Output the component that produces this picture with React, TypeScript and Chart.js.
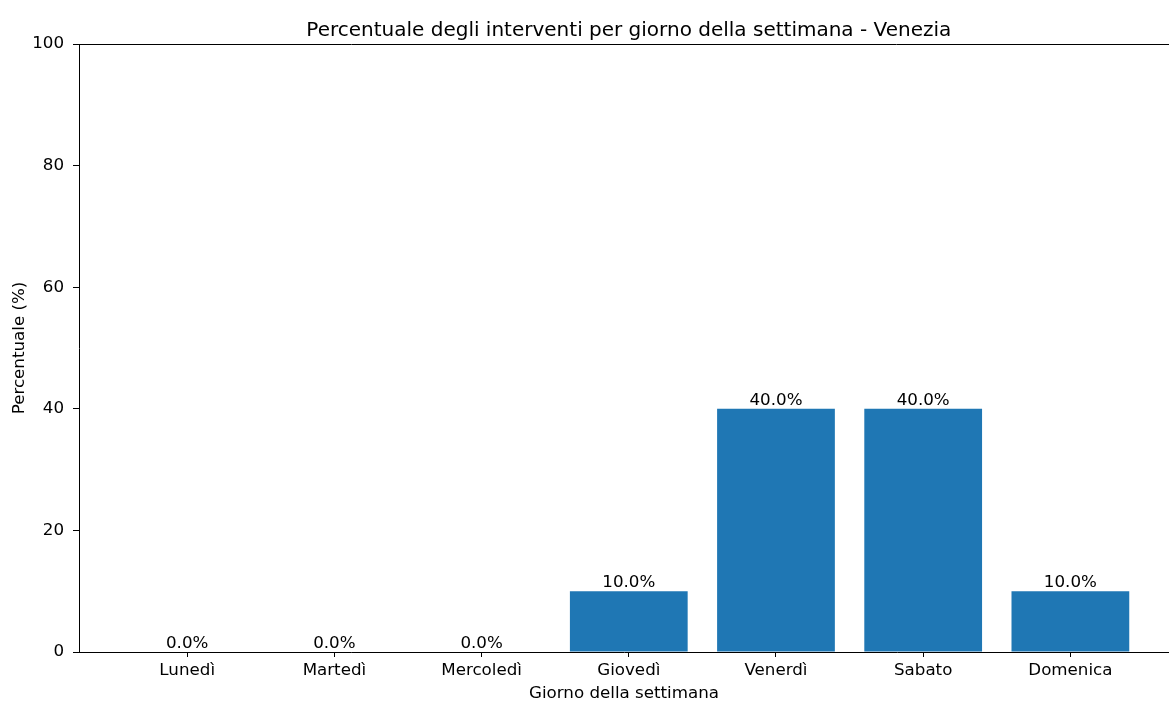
import React, { useEffect, useRef } from "react";
import { Chart, registerables } from "chart.js";

Chart.register(...registerables);

const TITLE = "Percentuale degli interventi per giorno della settimana - Venezia";
const X_LABEL = "Giorno della settimana";
const Y_LABEL = "Percentuale (%)";
const DAYS = ["Lunedì", "Martedì", "Mercoledì", "Giovedì", "Venerdì", "Sabato", "Domenica"];
const PERCENTAGES = [0, 0, 0, 10, 40, 40, 10];
const Y_TICKS = [0, 20, 40, 60, 80, 100];

const FONT = "'DejaVu Sans', 'Liberation Sans', sans-serif";
const BAR_COLOR = "#1f77b4";
const LABEL_SIZE = 16.7;
const TITLE_SIZE = 20;

const overlayPlugin = {
  id: "overlay",
  afterDatasetsDraw(chart: any) {
    const { ctx, chartArea, scales } = chart;
    const x = scales.x;
    const y = scales.y;
    ctx.save();
    // top spine
    ctx.strokeStyle = "#000";
    ctx.lineWidth = 1;
    ctx.beginPath();
    ctx.moveTo(chartArea.left, Math.round(chartArea.top) + 0.5);
    ctx.lineTo(chartArea.right, Math.round(chartArea.top) + 0.5);
    ctx.stroke();
    // value labels
    ctx.fillStyle = "#000";
    ctx.font = `${LABEL_SIZE}px ${FONT}`;
    ctx.textAlign = "center";
    ctx.textBaseline = "alphabetic";
    PERCENTAGES.forEach((v, i) => {
      const px = x.getPixelForValue(i);
      const py = y.getPixelForValue(v);
      ctx.fillText(`${v.toFixed(1)}%`, px, py - 3.8);
    });
    // title
    const axisCenter = x.getPixelForValue((-0.74 + 6.74) / 2);
    ctx.font = `${TITLE_SIZE}px ${FONT}`;
    ctx.fillText(TITLE, axisCenter, 36);
    ctx.restore();
  },
};

export default function App() {
  const canvasRef = useRef<HTMLCanvasElement | null>(null);

  useEffect(() => {
    if (!canvasRef.current) return;
    Chart.defaults.font.family = FONT;
    Chart.defaults.color = "#000";
    const chart = new Chart(canvasRef.current, {
      type: "bar",
      data: {
        datasets: [
          {
            data: PERCENTAGES.map((v, i) => ({ x: i, y: v })),
            backgroundColor: BAR_COLOR,
            borderWidth: 0,
            barPercentage: 0.8,
            categoryPercentage: 1,
          },
        ],
      },
      options: {
        responsive: false,
        animation: false,
        devicePixelRatio: 1,
        layout: { padding: { top: 44, left: 0, right: 0, bottom: 0 } },
        plugins: {
          legend: { display: false },
          tooltip: { enabled: false },
          title: { display: false },
        },
        scales: {
          x: {
            type: "linear",
            min: -0.735,
            max: 6.67,
            offset: false,
            afterFit: (s: any) => {
              s.height = 52;
            },
            afterBuildTicks: (s: any) => {
              s.ticks = DAYS.map((_, i) => ({ value: i }));
            },
            ticks: {
              autoSkip: false,
              maxRotation: 0,
              padding: 4,
              font: { size: LABEL_SIZE },
              color: "#000",
              callback: (v: any) => DAYS[v] ?? "",
            },
            grid: {
              display: true,
              offset: false,
              drawOnChartArea: false,
              drawTicks: true,
              tickLength: 5,
              tickColor: "#000",
              tickWidth: 1,
            },
            border: { display: true, color: "#000", width: 1 },
            title: {
              display: true,
              text: X_LABEL,
              font: { size: LABEL_SIZE },
              color: "#000",
              padding: { top: 0, bottom: 0 },
            },
          },
          y: {
            type: "linear",
            min: 0,
            max: 100,
            afterFit: (s: any) => {
              s.width = 79;
            },
            afterBuildTicks: (s: any) => {
              s.ticks = Y_TICKS.map((v) => ({ value: v }));
            },
            ticks: {
              padding: 9,
              font: { size: LABEL_SIZE },
              color: "#000",
            },
            grid: {
              display: true,
              drawOnChartArea: false,
              drawTicks: true,
              tickLength: 6,
              tickColor: "#000",
              tickWidth: 1,
            },
            border: { display: true, color: "#000", width: 1 },
            title: {
              display: true,
              text: Y_LABEL,
              font: { size: LABEL_SIZE },
              color: "#000",
              padding: { top: 9.5, bottom: 0 },
            },
          },
        },
      },
      plugins: [overlayPlugin],
    } as any);
    return () => chart.destroy();
  }, []);

  return (
    <div style={{ position: "fixed", left: 0, top: 0, width: 1169, height: 704, background: "#fff", overflow: "hidden" }}>
      <canvas ref={canvasRef} width={1169} height={704} />
    </div>
  );
}
